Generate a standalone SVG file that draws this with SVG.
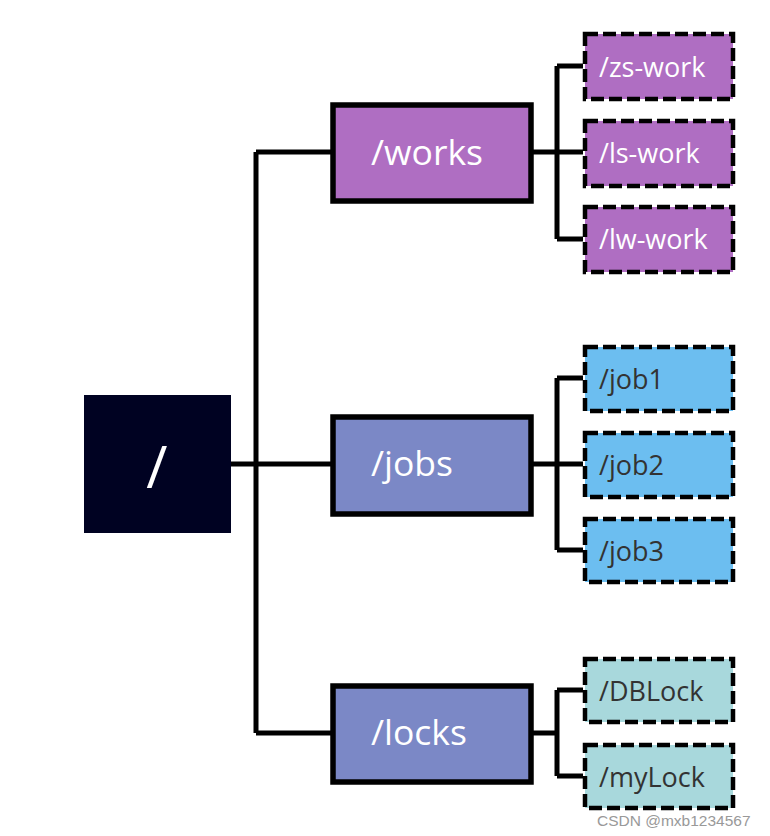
<svg xmlns="http://www.w3.org/2000/svg" width="770" height="836" viewBox="0 0 770 836">
<style>
.conn{fill:none;stroke:#000;stroke-width:5;stroke-linejoin:miter}
.mid{stroke:#000;stroke-width:5.5}
.leaf{stroke:#000;stroke-width:4.5;stroke-dasharray:13 5}
.t{font-family:"Open Sans","Liberation Sans",sans-serif}
.big{font-size:35.5px;fill:#fff}
.sm{font-size:27px}
.w{fill:#fff}
.d{fill:#333}
</style>
<rect width="770" height="836" fill="#fff"/>
<g id="connectors">
<path class="conn" d="M231 464 H333 M256 152 V733 M256 152 H333 M256 733 H333"/>
<path class="conn" d="M531 152 H583 M557 66 V239 M557 66 H583 M557 239 H583"/>
<path class="conn" d="M531 464 H583 M557 378 V550 M557 378 H583 M557 550 H583"/>
<path class="conn" d="M531 733 H557 M557 690 V776 M557 690 H583 M557 776 H583"/>
</g>
<g id="root">
<rect x="84" y="395" width="147" height="138" fill="#000222"/>
<text class="t" x="157" y="488" font-size="58" fill="#fff" text-anchor="middle">/</text>
</g>
<g id="works">
<rect class="mid" x="333" y="105" width="198" height="96" fill="#AF6EC2"/>
<text class="t big" x="371" y="165">/works</text>
</g>
<g id="jobs">
<rect class="mid" x="333" y="417" width="198" height="97" fill="#7B88C6"/>
<text class="t big" x="371" y="476">/jobs</text>
</g>
<g id="locks">
<rect class="mid" x="333" y="686" width="198" height="96" fill="#7B88C6"/>
<text class="t big" x="371" y="745">/locks</text>
</g>
<g id="zs-work">
<rect class="leaf" x="585" y="34" width="148" height="65" fill="#AF6EC2"/>
<text class="t sm w" x="599" y="77">/zs-work</text>
</g>
<g id="ls-work">
<rect class="leaf" x="585" y="121" width="148" height="65" fill="#AF6EC2"/>
<text class="t sm w" x="599" y="163">/ls-work</text>
</g>
<g id="lw-work">
<rect class="leaf" x="585" y="207" width="148" height="65" fill="#AF6EC2"/>
<text class="t sm w" x="599" y="249">/lw-work</text>
</g>
<g id="job1">
<rect class="leaf" x="585" y="347" width="148" height="64" fill="#6CBEF0"/>
<text class="t sm d" x="599" y="389">/job1</text>
</g>
<g id="job2">
<rect class="leaf" x="585" y="433" width="148" height="64" fill="#6CBEF0"/>
<text class="t sm d" x="599" y="475">/job2</text>
</g>
<g id="job3">
<rect class="leaf" x="585" y="519" width="148" height="63" fill="#6CBEF0"/>
<text class="t sm d" x="599" y="561">/job3</text>
</g>
<g id="DBLock">
<rect class="leaf" x="585" y="659" width="148" height="63" fill="#A8D8DC"/>
<text class="t sm d" x="599" y="701">/DBLock</text>
</g>
<g id="myLock">
<rect class="leaf" x="585" y="745" width="148" height="63" fill="#A8D8DC"/>
<text class="t sm d" x="599" y="787">/myLock</text>
</g>
<text x="597" y="826" font-family="Liberation Sans,Arial,sans-serif" font-size="15.5" fill="#999">CSDN @mxb1234567</text>
</svg>
